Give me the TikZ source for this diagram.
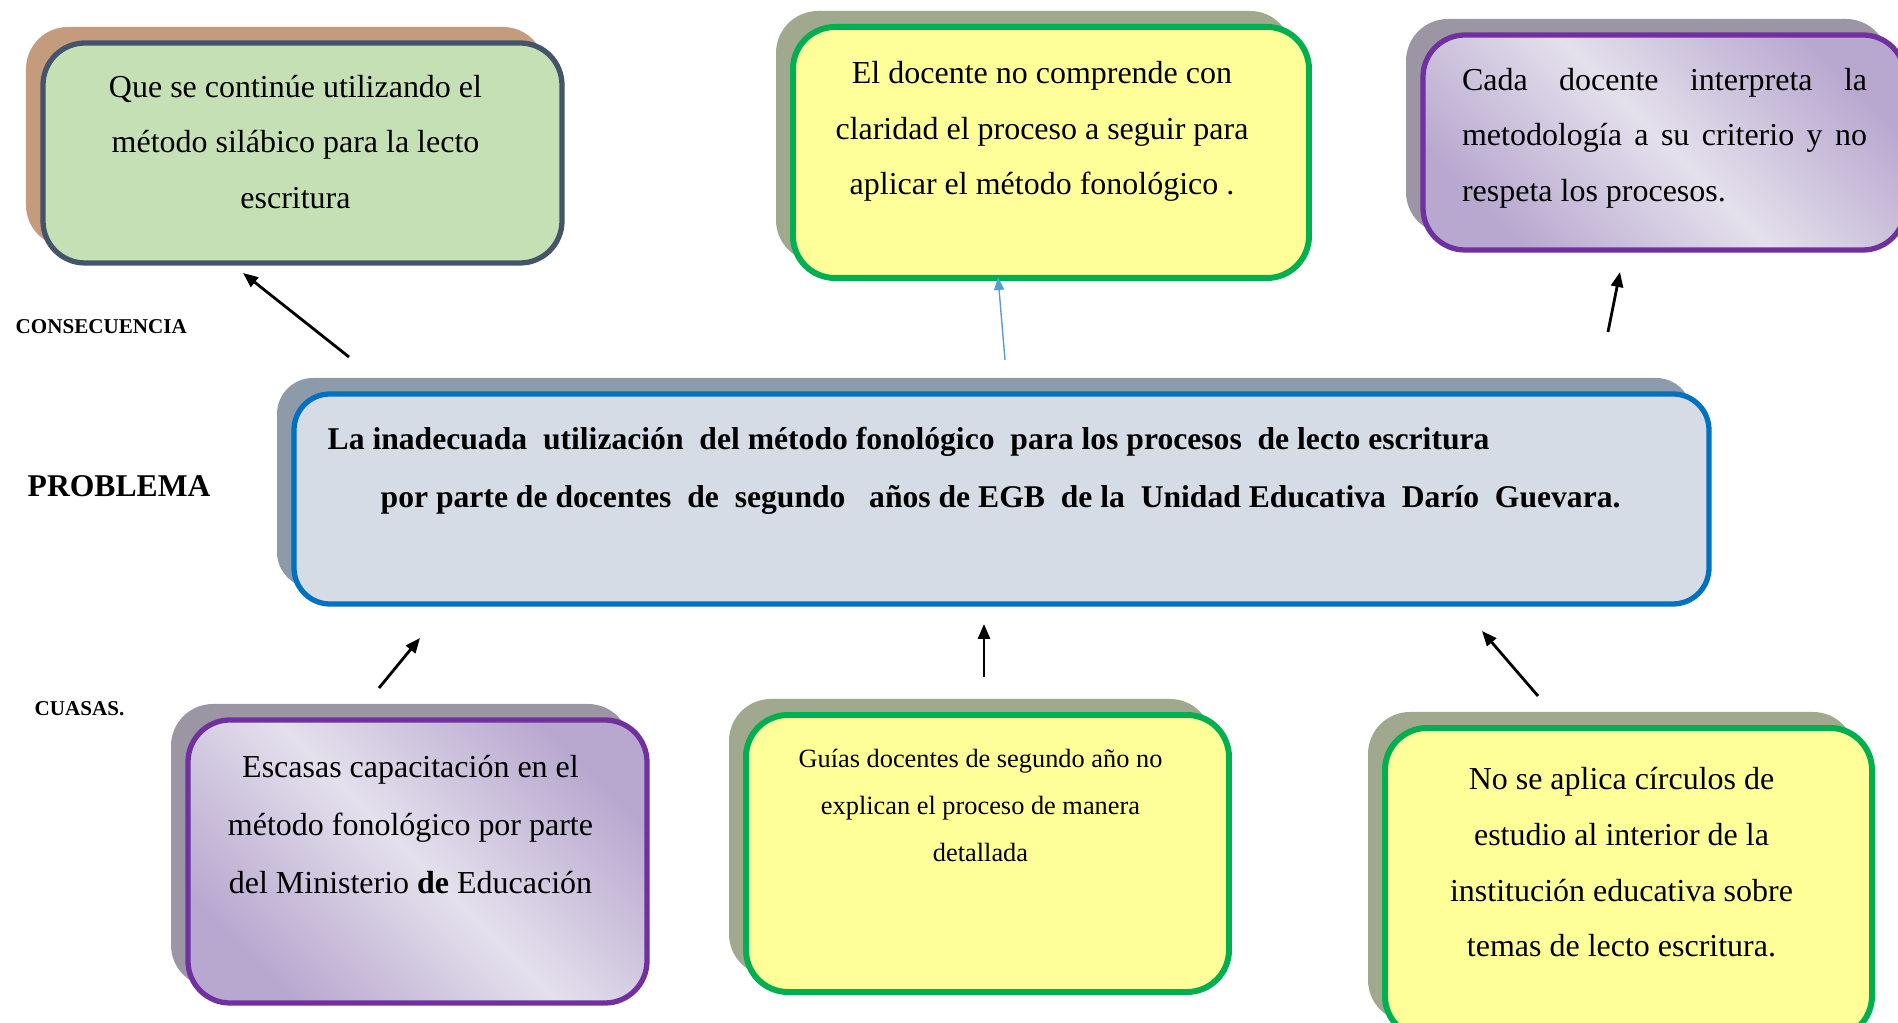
\documentclass[tikz,border=0pt]{standalone}
\usepackage{fontspec}
\setmainfont{Liberation Serif}
\usepackage{xcolor}
\usetikzlibrary{arrows.meta,positioning,shadows}

\definecolor{consfill}{HTML}{C5E0B4}
\definecolor{consline}{HTML}{44546A}
\definecolor{consshadow}{HTML}{C59B7D}
\definecolor{yelfill}{HTML}{FFFF99}
\definecolor{yelline}{HTML}{00B050}
\definecolor{yelshadow}{HTML}{A0A98E}
\definecolor{purline}{HTML}{7030A0}
\definecolor{purdark}{HTML}{B8A8CF}
\definecolor{purlite}{HTML}{E4E0EC}
\definecolor{purshadow}{HTML}{9B95A4}
\definecolor{probfill}{HTML}{D6DCE5}
\definecolor{probline}{HTML}{0070C0}
\definecolor{probshadow}{HTML}{8D9AAA}
\definecolor{bluearrow}{HTML}{5B9BD5}

\begin{document}
\begin{tikzpicture}[
  box/.style={rounded corners=0.42cm, line width=1.5pt, inner sep=0pt},
  consbox/.style={box, draw=consline, fill=consfill,
    general shadow={fill=consshadow, shadow xshift=-0.17cm, shadow yshift=0.16cm}},
  yelbox/.style={box, draw=yelline, line width=1.7pt, fill=yelfill,
    general shadow={fill=yelshadow, shadow xshift=-0.17cm, shadow yshift=0.16cm}},
  purbox/.style={box, draw=purline, top color=purdark, bottom color=purdark,
    middle color=purlite, shading angle=-45,
    general shadow={fill=purshadow, shadow xshift=-0.17cm, shadow yshift=0.16cm}},
  probbox/.style={box, rounded corners=0.36cm, draw=probline, fill=probfill,
    general shadow={fill=probshadow, shadow xshift=-0.17cm, shadow yshift=0.16cm}},
  txt/.style={font=\fontsize{9.1}{15.8}\selectfont, align=center, inner sep=0pt, xshift=-0.07cm},
  smalltxt/.style={font=\fontsize{7.5}{13.4}\selectfont, align=center, inner sep=0pt, xshift=-0.07cm},
  probtxt/.style={font=\bfseries\fontsize{9}{15}\selectfont, inner sep=0pt, anchor=base west},
  tag/.style={font=\bfseries\fontsize{6}{7}\selectfont, inner sep=0pt, anchor=base west},
  arrow/.style={-{Triangle[length=0.15cm,width=0.12cm]}, line width=0.8pt},
  thinarrow/.style={-{Triangle[length=0.13cm,width=0.1cm]}, line width=0.4pt, draw=bluearrow, fill=bluearrow}
]
  \path[use as bounding box] (0,0) rectangle (18.98,-10.23);
  \clip (0,0) rectangle (18.98,-10.23);

  % consecuencias
  \node[consbox, minimum width=5.19cm, minimum height=2.20cm] (c1) at (3.025,-1.53) {};
  \node[yelbox, minimum width=5.16cm, minimum height=2.51cm] (c2) at (10.51,-1.525) {};
  \node[purbox, minimum width=4.82cm, minimum height=2.15cm] (c3) at (16.64,-1.425) {};
  \node[txt, below=0.34cm of c1.north] (c1t) {Que se continúe utilizando el\\método silábico para la lecto\\escritura};
  \node[txt, xshift=-0.02cm, below=0.37cm of c2.north] (c2t) {El docente no comprende con\\claridad el proceso a seguir para\\aplicar el método fonológico .};
  \node[txt, xshift=0.11cm, text width=4.05cm, align=justify, below right=0.35cm and 0.37cm of c3.north west] (c3t)
    {Cada docente interpreta la\linebreak metodología a su criterio y no\linebreak respeta los procesos.};

  % problema
  \node[probbox, minimum width=14.15cm, minimum height=2.10cm] (prob) at (10.015,-4.99) {};
  \node[probtxt] (p1) at (3.27,-4.50) {La inadecuada~ utilización~ del método fonológico~ para los procesos~ de lecto escritura};
  \node[probtxt] (p2) at (3.80,-5.08) {por parte de docentes~ de~ segundo~~ años de EGB~ de la~ Unidad Educativa~ Darío~ Guevara.};

  % causas
  \node[purbox, minimum width=4.59cm, minimum height=2.83cm] (a1) at (4.175,-8.615) {};
  \node[yelbox, minimum width=4.83cm, minimum height=2.77cm] (a2) at (9.875,-8.535) {};
  \node[yelbox, minimum width=4.87cm, minimum height=3.10cm] (a3) at (16.285,-8.83) {};
  \node[txt, font=\fontsize{9.1}{16.5}\selectfont, below=0.37cm of a1.north] (a1t) {Escasas capacitación en el\\método fonológico por parte\\del Ministerio \textbf{de} Educación};
  \node[smalltxt, below=0.36cm of a2.north] (a2t) {Guías docentes de segundo año no\\explican el proceso de manera\\detallada};
  \node[txt, below=0.42cm of a3.north] (a3t) {No se aplica círculos de\\estudio al interior de la\\institución educativa sobre\\temas de lecto escritura.};

  % rotulos
  \node[tag] (lcons) at (0.15,-3.34) {CONSECUENCIA};
  \node[tag, font=\bfseries\fontsize{9}{11}\selectfont] (lprob) at (0.27,-4.97) {PROBLEMA};
  \node[tag] (lcaus) at (0.34,-7.16) {CUASAS.};

  % flechas
  \coordinate (e1s) at (3.49,-3.57);   \coordinate (e1t) at (2.43,-2.73);
  \coordinate (e2s) at (10.05,-3.60);  \coordinate (e2t) at (9.98,-2.77);
  \coordinate (e3s) at (16.08,-3.32);  \coordinate (e3t) at (16.20,-2.72);
  \coordinate (k1s) at (3.79,-6.88);   \coordinate (k1t) at (4.20,-6.38);
  \coordinate (k2s) at (9.84,-6.77);   \coordinate (k2t) at (9.84,-6.24);
  \coordinate (k3s) at (15.38,-6.96);  \coordinate (k3t) at (14.82,-6.31);
  \foreach \i/\j in {e1s/e1t,e3s/e3t,k1s/k1t,k2s/k2t,k3s/k3t} \draw[arrow] (\i) -- (\j);
  \draw[thinarrow] (e2s) -- (e2t);
\end{tikzpicture}
\end{document}
